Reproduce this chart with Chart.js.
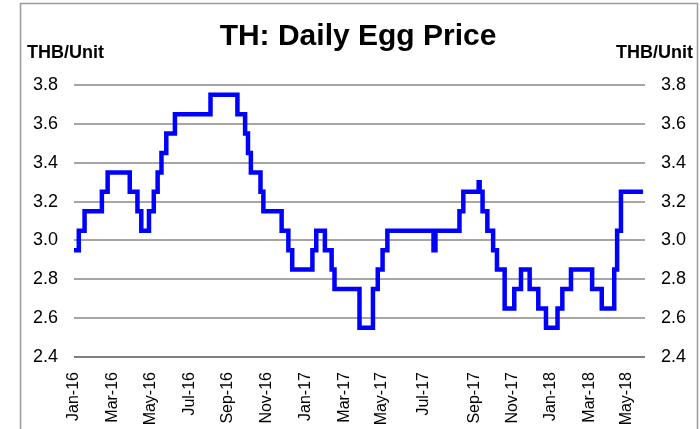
<!DOCTYPE html>
<html>
<head>
<meta charset="utf-8">
<script src="https://cdn.jsdelivr.net/npm/chart.js@4.4.1/dist/chart.umd.min.js"></script>
<style>
  html, body { margin: 0; padding: 0; background: #fff; }
  #c { display: block; }
</style>
</head>
<body>
<canvas id="c" width="700" height="429"></canvas>
<script>
// Observation index (trading-day style position along the axis) where each price level starts
const obsIndex = [0, 5, 11, 29, 35, 58, 66, 70, 78, 83, 87, 91, 96, 105, 142, 170, 178, 181, 184, 194,
  197, 216, 223, 227, 248, 252, 261, 268, 271, 297, 311, 316, 321, 326, 374, 376, 401, 405, 421, 422,
  425, 430, 436, 440, 448, 458, 465, 474, 483, 491, 503, 508, 517, 539, 549, 562, 565, 569, 592];
// Price in THB per egg
const priceTHB = [2.95, 3.05, 3.15, 3.25, 3.35, 3.25, 3.15, 3.05, 3.15, 3.25, 3.35, 3.45, 3.55, 3.65, 3.75, 3.65, 3.55, 3.45, 3.35, 3.25,
  3.15, 3.05, 2.95, 2.85, 2.95, 3.05, 2.95, 2.85, 2.75, 2.55, 2.75, 2.85, 2.95, 3.05, 2.95, 3.05, 3.15, 3.25, 3.30, 3.25,
  3.15, 3.05, 2.95, 2.85, 2.65, 2.75, 2.85, 2.75, 2.65, 2.55, 2.65, 2.75, 2.85, 2.75, 2.65, 2.85, 3.05, 3.25, 3.25];
// Category labels and the observation index they sit at
const tickLabels = ['Jan-16', 'Mar-16', 'May-16', 'Jul-16', 'Sep-16', 'Nov-16', 'Jan-17', 'Mar-17', 'May-17',
  'Jul-17', 'Sep-17', 'Nov-17', 'Jan-18', 'Mar-18', 'May-18'];
const tickIndex = [0, 40, 80, 120, 160, 200, 241, 281, 320, 364, 417, 456, 496, 536, 575];
const lastIndex = 594;

const FONT = '"Liberation Sans", Arial, Helvetica, sans-serif';

const decor = {
  id: 'decor',
  beforeDraw(chart) {
    const ctx = chart.ctx;
    ctx.save();
    ctx.strokeStyle = '#9a9a9a';
    ctx.lineWidth = 1.5;
    ctx.strokeRect(20.5, 3.5, 677, 440);
    ctx.restore();
  },
  afterDraw(chart) {
    const ctx = chart.ctx;
    ctx.save();
    ctx.fillStyle = '#000';
    ctx.textBaseline = 'alphabetic';
    ctx.font = 'bold 30px ' + FONT;
    ctx.textAlign = 'center';
    ctx.fillText('TH: Daily Egg Price', 358, 45);
    ctx.font = 'bold 18px ' + FONT;
    ctx.textAlign = 'left';
    ctx.fillText('THB/Unit', 27, 58);
    ctx.textAlign = 'right';
    ctx.fillText('THB/Unit', 693, 58);
    ctx.restore();
  }
};

const yTicks = {
  stepSize: 0.2,
  color: '#000',
  font: { family: FONT, size: 18 },
  padding: 16,
  callback: v => Number(v).toFixed(1)
};

new Chart(document.getElementById('c'), {
  type: 'line',
  data: {
    datasets: [{
      data: obsIndex.map((x, i) => ({ x: x, y: priceTHB[i] })),
      borderColor: '#0000ff',
      borderWidth: 4.5,
      stepped: 'before',
      pointRadius: 0,
      fill: false,
      borderJoinStyle: 'miter',
      borderCapStyle: 'butt'
    }]
  },
  options: {
    responsive: false,
    animation: false,
    devicePixelRatio: 1,
    layout: { padding: { top: 85, left: 0, right: 0, bottom: 0 } },
    plugins: { legend: { display: false }, tooltip: { enabled: false }, title: { display: false } },
    scales: {
      x: {
        type: 'linear',
        min: 0,
        max: lastIndex,
        afterBuildTicks: s => { s.ticks = tickIndex.map(v => ({ value: v })); },
        afterFit: s => { s.height = 72; },
        grid: { display: false },
        border: { display: false },
        ticks: {
          autoSkip: false,
          minRotation: 90,
          maxRotation: 90,
          padding: 7,
          color: '#000',
          font: { family: FONT, size: 16 },
          callback: v => tickLabels[tickIndex.indexOf(v)]
        }
      },
      y: {
        position: 'left',
        min: 2.4,
        max: 3.8,
        afterFit: s => { s.width = 74; },
        border: { display: false },
        grid: {
          drawTicks: false,
          lineWidth: 2,
          color: c => (Math.abs(c.tick.value - 2.4) < 1e-6 ? '#7f7f7f' : '#a6a6a6')
        },
        ticks: yTicks
      },
      y2: {
        position: 'right',
        min: 2.4,
        max: 3.8,
        afterFit: s => { s.width = 55; },
        border: { display: false },
        grid: { display: false, drawTicks: false },
        ticks: yTicks
      }
    }
  },
  plugins: [decor]
});
</script>
</body>
</html>
